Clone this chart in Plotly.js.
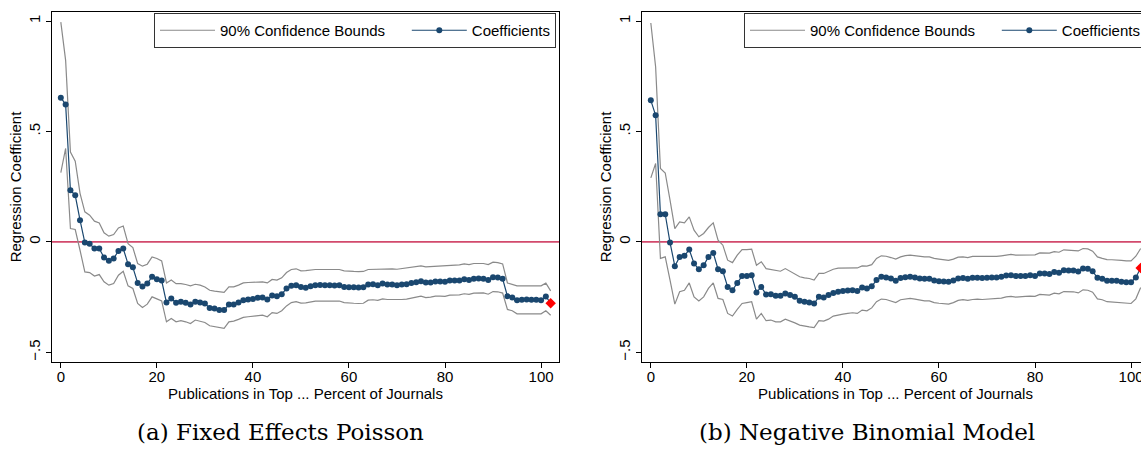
<!DOCTYPE html>
<html>
<head>
<meta charset="utf-8">
<script src="https://cdn.plot.ly/plotly-3.0.1.min.js"></script>
<style>
html,body{margin:0;padding:0;overflow:hidden;background:#fff;}
#chart{width:1180px;height:458px;}
</style>
</head>
<body>
<div id="chart"></div>
<script>
// Publications in top ... percent of journals (0..102; the last one is highlighted in red)
var pct = [0,1,2,3,4,5,6,7,8,9,10,11,12,13,14,15,16,17,18,19,20,21,22,23,24,25,26,27,28,29,30,31,32,33,34,35,36,37,38,39,40,41,42,43,44,45,46,47,48,49,50,51,52,53,54,55,56,57,58,59,60,61,62,63,64,65,66,67,68,69,70,71,72,73,74,75,76,77,78,79,80,81,82,83,84,85,86,87,88,89,90,91,92,93,94,95,96,97,98,99,100,101,102];

// (a) Fixed Effects Poisson
var poissonCoef = [0.653,0.622,0.234,0.211,0.098,-0.003,-0.009,-0.030,-0.030,-0.071,-0.086,-0.075,-0.041,-0.030,-0.101,-0.115,-0.186,-0.202,-0.189,-0.158,-0.169,-0.175,-0.275,-0.256,-0.276,-0.271,-0.276,-0.284,-0.271,-0.275,-0.279,-0.299,-0.302,-0.309,-0.309,-0.284,-0.284,-0.275,-0.264,-0.261,-0.259,-0.253,-0.252,-0.261,-0.243,-0.246,-0.237,-0.211,-0.199,-0.196,-0.204,-0.208,-0.201,-0.196,-0.195,-0.196,-0.196,-0.198,-0.196,-0.204,-0.205,-0.205,-0.207,-0.205,-0.193,-0.192,-0.196,-0.189,-0.193,-0.193,-0.196,-0.193,-0.192,-0.186,-0.183,-0.178,-0.184,-0.184,-0.179,-0.179,-0.181,-0.175,-0.175,-0.175,-0.169,-0.173,-0.167,-0.166,-0.167,-0.173,-0.160,-0.161,-0.167,-0.246,-0.252,-0.264,-0.262,-0.261,-0.262,-0.262,-0.264,-0.247,-0.278];
var poissonUpper = [0.995,0.822,0.407,0.365,0.220,0.136,0.121,0.094,0.086,0.041,0.026,0.033,0.063,0.072,-0.008,-0.026,-0.098,-0.110,-0.101,-0.068,-0.075,-0.086,-0.186,-0.173,-0.189,-0.189,-0.193,-0.199,-0.192,-0.196,-0.204,-0.219,-0.223,-0.226,-0.229,-0.204,-0.204,-0.196,-0.186,-0.184,-0.184,-0.183,-0.181,-0.186,-0.170,-0.173,-0.163,-0.139,-0.125,-0.122,-0.131,-0.130,-0.127,-0.125,-0.125,-0.125,-0.125,-0.126,-0.125,-0.131,-0.134,-0.134,-0.135,-0.134,-0.125,-0.124,-0.125,-0.121,-0.122,-0.122,-0.124,-0.121,-0.119,-0.115,-0.112,-0.109,-0.113,-0.112,-0.109,-0.109,-0.110,-0.106,-0.106,-0.104,-0.100,-0.103,-0.098,-0.097,-0.098,-0.103,-0.092,-0.094,-0.100,-0.186,-0.193,-0.199,-0.199,-0.198,-0.199,-0.199,-0.199,-0.187,-0.222];
var poissonLower = [0.314,0.423,0.060,0.056,-0.038,-0.136,-0.139,-0.155,-0.148,-0.181,-0.196,-0.189,-0.151,-0.133,-0.199,-0.211,-0.279,-0.297,-0.282,-0.249,-0.258,-0.267,-0.362,-0.347,-0.362,-0.357,-0.362,-0.370,-0.354,-0.359,-0.365,-0.380,-0.385,-0.388,-0.392,-0.362,-0.359,-0.351,-0.342,-0.339,-0.336,-0.335,-0.332,-0.339,-0.320,-0.324,-0.312,-0.290,-0.275,-0.271,-0.277,-0.276,-0.271,-0.268,-0.268,-0.268,-0.268,-0.269,-0.268,-0.275,-0.278,-0.278,-0.279,-0.278,-0.264,-0.262,-0.265,-0.258,-0.261,-0.261,-0.264,-0.261,-0.259,-0.253,-0.250,-0.246,-0.252,-0.250,-0.246,-0.246,-0.247,-0.241,-0.241,-0.240,-0.235,-0.238,-0.232,-0.231,-0.231,-0.237,-0.225,-0.226,-0.232,-0.306,-0.312,-0.326,-0.326,-0.324,-0.326,-0.326,-0.326,-0.312,-0.332];

// (b) Negative Binomial Model
var negbinCoef = [0.641,0.573,0.125,0.125,-0.003,-0.110,-0.068,-0.063,-0.035,-0.098,-0.124,-0.106,-0.068,-0.050,-0.124,-0.133,-0.204,-0.219,-0.186,-0.155,-0.155,-0.151,-0.229,-0.204,-0.238,-0.237,-0.244,-0.244,-0.234,-0.241,-0.249,-0.267,-0.271,-0.275,-0.279,-0.249,-0.252,-0.241,-0.231,-0.226,-0.222,-0.220,-0.219,-0.222,-0.207,-0.211,-0.201,-0.173,-0.158,-0.161,-0.166,-0.176,-0.164,-0.160,-0.158,-0.161,-0.166,-0.167,-0.167,-0.175,-0.178,-0.179,-0.181,-0.175,-0.166,-0.164,-0.167,-0.163,-0.163,-0.164,-0.163,-0.161,-0.161,-0.158,-0.152,-0.151,-0.155,-0.155,-0.154,-0.151,-0.154,-0.143,-0.143,-0.146,-0.136,-0.140,-0.128,-0.130,-0.130,-0.134,-0.121,-0.122,-0.133,-0.163,-0.167,-0.176,-0.176,-0.176,-0.181,-0.183,-0.183,-0.161,-0.118];
var negbinUpper = [0.991,0.792,0.332,0.312,0.189,0.060,0.090,0.086,0.113,0.053,0.023,0.038,0.065,0.086,0.008,-0.015,-0.083,-0.094,-0.060,-0.035,-0.035,-0.033,-0.106,-0.090,-0.121,-0.125,-0.131,-0.133,-0.121,-0.133,-0.143,-0.158,-0.163,-0.166,-0.173,-0.143,-0.143,-0.133,-0.124,-0.119,-0.118,-0.118,-0.116,-0.118,-0.109,-0.110,-0.103,-0.075,-0.063,-0.065,-0.071,-0.078,-0.068,-0.062,-0.060,-0.063,-0.066,-0.068,-0.068,-0.075,-0.078,-0.081,-0.084,-0.078,-0.069,-0.068,-0.071,-0.066,-0.066,-0.068,-0.068,-0.066,-0.066,-0.063,-0.059,-0.057,-0.060,-0.060,-0.059,-0.057,-0.059,-0.050,-0.050,-0.051,-0.044,-0.047,-0.036,-0.038,-0.038,-0.041,-0.030,-0.032,-0.042,-0.068,-0.075,-0.080,-0.081,-0.081,-0.084,-0.086,-0.086,-0.065,-0.030];
var negbinLower = [0.290,0.355,-0.075,-0.068,-0.173,-0.282,-0.226,-0.219,-0.186,-0.249,-0.268,-0.249,-0.211,-0.186,-0.256,-0.261,-0.324,-0.336,-0.306,-0.279,-0.275,-0.271,-0.350,-0.324,-0.357,-0.354,-0.362,-0.362,-0.350,-0.357,-0.367,-0.377,-0.382,-0.385,-0.388,-0.357,-0.359,-0.350,-0.336,-0.330,-0.327,-0.324,-0.321,-0.324,-0.309,-0.312,-0.299,-0.271,-0.259,-0.261,-0.267,-0.275,-0.262,-0.258,-0.256,-0.259,-0.264,-0.267,-0.267,-0.275,-0.278,-0.279,-0.282,-0.275,-0.265,-0.262,-0.265,-0.261,-0.259,-0.261,-0.259,-0.258,-0.256,-0.255,-0.249,-0.247,-0.250,-0.250,-0.247,-0.246,-0.247,-0.238,-0.238,-0.241,-0.232,-0.235,-0.225,-0.226,-0.226,-0.231,-0.217,-0.219,-0.228,-0.258,-0.262,-0.271,-0.273,-0.273,-0.278,-0.279,-0.279,-0.258,-0.207];

var xTickVals = [0,20,40,60,80,100];
var yTickVals = [-0.5,0,0.5,1];
var yTickText = ['\u2212.5','0','.5','1'];
var panelCaptions = ['(a) Fixed Effects Poisson','(b) Negative Binomial Model'];
var legendNames = ['90% Confidence Bounds','Coefficients'];
var xTitle = 'Publications in Top ... Percent of Journals';
var yTitle = 'Regression Coefficient';

var W = 1180, H = 458;
var NAVY = '#1a476f', GRAY = '#8a8a8a', ZERO = '#d24a6c';
var FONT = 'Liberation Sans, Arial, Helvetica, sans-serif';
var FS = 15;
var PADNAME = '\u00a0\u00a0\u00a0\u00a0';

function last(a){ return a[a.length-1]; }

function panelTraces(coef, up, lo, xa, ya, leg){
  var xs = pct;
  return [
    {x: xs, y: up, xaxis: xa, yaxis: ya, type: 'scatter', mode: 'lines', name: legendNames[0] + PADNAME,
     line: {color: GRAY, width: 1.2}, legend: leg},
    {x: xs, y: lo, xaxis: xa, yaxis: ya, type: 'scatter', mode: 'lines', name: legendNames[0],
     line: {color: GRAY, width: 1.2}, showlegend: false, legend: leg},
    {x: xs, y: coef, xaxis: xa, yaxis: ya, type: 'scatter', mode: 'lines+markers', name: legendNames[1],
     line: {color: NAVY, width: 1.2}, marker: {color: NAVY, size: 6}, legend: leg},
    {x: [last(xs)], y: [last(coef)], xaxis: xa, yaxis: ya, type: 'scatter', mode: 'markers',
     marker: {color: '#ff0000', size: 8, symbol: 'diamond'}, showlegend: false, hoverinfo: 'skip'}
  ];
}

var data = [].concat(
  panelTraces(poissonCoef, poissonUpper, poissonLower, 'x', 'y', 'legend'),
  panelTraces(negbinCoef, negbinUpper, negbinLower, 'x2', 'y2', 'legend2')
);

var yTop = 12, yBot = 362;
var yDom = [(H - yBot)/H, (H - yTop)/H];
var L1 = 51.7, R1 = 559.3, off = 590;

function xaxis(dom){
  return {domain: dom, range: [-1.9, 103.8], showgrid: false, zeroline: false,
    showline: true, linecolor: '#000', linewidth: 1, mirror: true,
    ticks: 'outside', ticklen: 5, tickcolor: '#000', tickwidth: 1,
    ticklabelstandoff: -4,
    tickvals: xTickVals, tickfont: {family: FONT, size: FS, color: '#000'},
    title: {text: xTitle, font: {family: FONT, size: FS, color: '#000'}, standoff: 0},
    automargin: false, fixedrange: true};
}
function yaxis(anchor){
  return {domain: yDom, anchor: anchor, range: [-0.544, 1.041], showgrid: false, zeroline: false,
    showline: true, linecolor: '#000', linewidth: 1, mirror: true,
    ticks: 'outside', ticklen: 5, tickcolor: '#000', tickwidth: 1,
    tickvals: yTickVals, ticktext: yTickText, tickangle: -90,
    tickfont: {family: FONT, size: FS, color: '#000'},
    title: {text: yTitle, font: {family: FONT, size: FS, color: '#000'}, standoff: 0},
    automargin: false, fixedrange: true};
}
function legend(xRight){
  return {orientation: 'h', x: xRight / W, xanchor: 'right', y: (H - 13)/H, yanchor: 'top',
    bgcolor: '#fff', bordercolor: '#333', borderwidth: 1, itemwidth: 55,
    font: {family: FONT, size: FS, color: '#000'}, traceorder: 'normal', valign: 'middle'};
}

var layout = {
  width: W, height: H,
  margin: {l: 0, r: 0, t: 0, b: 0},
  paper_bgcolor: '#fff', plot_bgcolor: '#fff',
  showlegend: true,
  xaxis: Object.assign(xaxis([L1/W, R1/W]), {anchor: 'y'}),
  yaxis: yaxis('x'),
  xaxis2: Object.assign(xaxis([(L1+off)/W, (R1+off)/W]), {anchor: 'y2'}),
  yaxis2: yaxis('x2'),
  legend: legend(556),
  legend2: legend(556 + off),
  shapes: [
    {type: 'line', xref: 'x domain', yref: 'y', x0: 0, x1: 1, y0: 0, y1: 0, layer: 'below',
     line: {color: ZERO, width: 1.8}},
    {type: 'line', xref: 'x2 domain', yref: 'y2', x0: 0, x1: 1, y0: 0, y1: 0, layer: 'below',
     line: {color: ZERO, width: 1.8}}
  ],
  annotations: [
    {text: panelCaptions[0], xref: 'paper', yref: 'paper', x: 280/W, y: (H-432)/H,
     xanchor: 'center', yanchor: 'middle', showarrow: false,
     font: {family: 'DejaVu Serif, Liberation Serif, serif', size: 23, color: '#000'}},
    {text: panelCaptions[1], xref: 'paper', yref: 'paper', x: 867/W, y: (H-432)/H,
     xanchor: 'center', yanchor: 'middle', showarrow: false,
     font: {family: 'DejaVu Serif, Liberation Serif, serif', size: 23, color: '#000'}}
  ]
};

Plotly.newPlot('chart', data, layout, {displayModeBar: false, staticPlot: true});
</script>
</body>
</html>
